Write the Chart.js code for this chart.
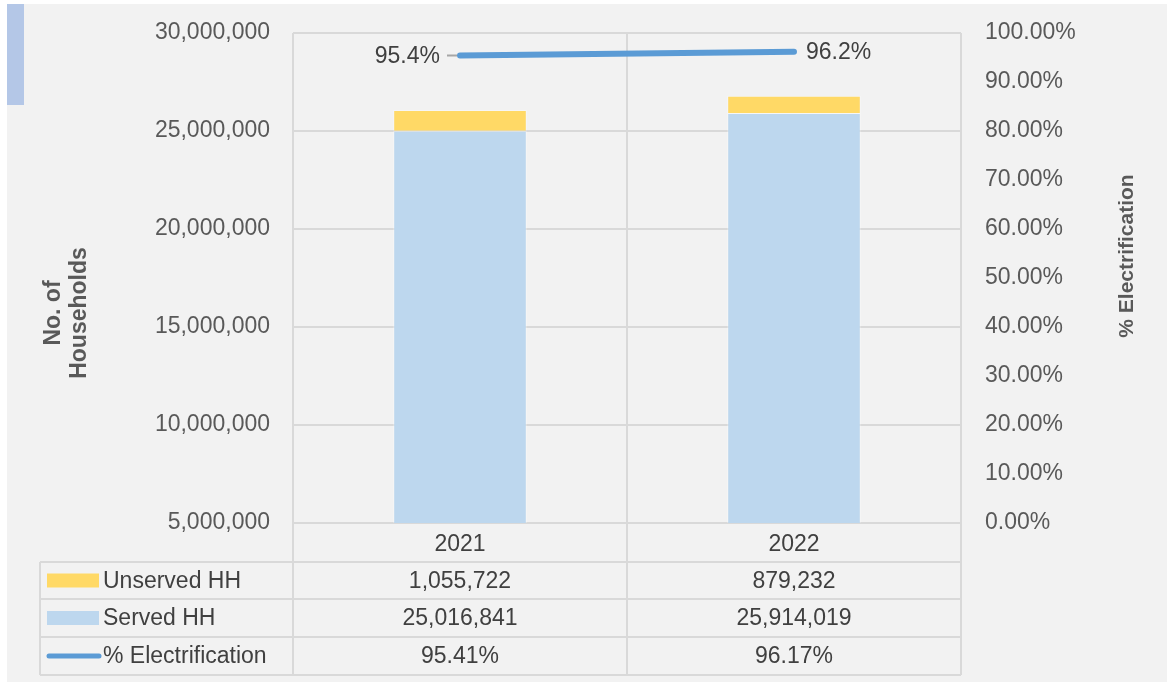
<!DOCTYPE html>
<html>
<head>
<meta charset="utf-8">
<script src="https://cdn.jsdelivr.net/npm/chart.js@4.4.1/dist/chart.umd.min.js"></script>
<style>
  html, body { margin: 0; padding: 0; background: #ffffff; }
  #wrap { width: 1167px; height: 682px; }
</style>
</head>
<body>
<div id="wrap"><canvas id="c" width="1167" height="682"></canvas></div>
<script>
// Household electrification, served vs unserved
const years = ['2021', '2022'];
const unservedHH = [1055722, 879232];
const servedHH = [25016841, 25914019];
const electrificationPct = [95.41, 96.17];
const seriesNames = ['Unserved HH', 'Served HH', '% Electrification'];
const leftTicks = [5000000, 10000000, 15000000, 20000000, 25000000, 30000000];

const FONT = '"Liberation Sans", Arial, sans-serif';
const TICK_COLOR = '#595959';
const TEXT_COLOR = '#404040';
const GRID = '#d9d9d9';
const YELLOW = '#ffd966';
const LIGHTBLUE = '#bdd7ee';
const LINEBLUE = '#5b9bd5';

// background panel, accent strip
const backdrop = {
  id: 'backdrop',
  beforeDraw(chart) {
    const ctx = chart.ctx;
    ctx.save();
    ctx.fillStyle = '#ffffff';
    ctx.fillRect(0, 0, chart.width, chart.height);
    ctx.fillStyle = '#f2f2f2';
    ctx.fillRect(7, 4, chart.width - 7, chart.height - 4);
    ctx.fillStyle = '#b4c7e7';
    ctx.fillRect(7, 4, 17, 101);
    ctx.restore();
  }
};

// axis titles
const axisTitles = {
  id: 'axisTitles',
  afterDraw(chart) {
    const ctx = chart.ctx;
    ctx.save();
    ctx.fillStyle = TICK_COLOR;
    ctx.font = 'bold 23px ' + FONT;
    ctx.textAlign = 'center';
    ctx.textBaseline = 'middle';
    ctx.translate(67, 313);
    ctx.rotate(-Math.PI / 2);
    ctx.fillText('No. of', 0, -13);
    ctx.fillText('Households', 0, 13);
    ctx.restore();

    ctx.save();
    ctx.fillStyle = TICK_COLOR;
    ctx.font = 'bold 21px ' + FONT;
    ctx.textAlign = 'center';
    ctx.textBaseline = 'middle';
    ctx.translate(1127, 256);
    ctx.rotate(-Math.PI / 2);
    ctx.fillText('% Electrification', 0, 0);
    ctx.restore();
  }
};

// value labels on the electrification line
const lineLabels = {
  id: 'lineLabels',
  afterDatasetsDraw(chart) {
    const ctx = chart.ctx;
    const meta = chart.getDatasetMeta(2);
    ctx.save();
    ctx.font = '23px ' + FONT;
    ctx.fillStyle = TEXT_COLOR;
    ctx.textBaseline = 'middle';
    meta.data.forEach((pt, i) => {
      const txt = electrificationPct[i].toFixed(1) + '%';
      if (i === 0) {
        ctx.strokeStyle = '#a6a6a6';
        ctx.lineWidth = 2;
        ctx.beginPath();
        ctx.moveTo(pt.x - 13, pt.y);
        ctx.lineTo(pt.x - 3, pt.y);
        ctx.stroke();
        ctx.textAlign = 'right';
        ctx.fillText(txt, pt.x - 20, pt.y + 1);
      } else {
        ctx.textAlign = 'left';
        ctx.fillText(txt, pt.x + 12, pt.y + 1);
      }
    });
    ctx.restore();
  }
};

// data table beneath the plot
const dataTable = {
  id: 'dataTable',
  afterDraw(chart) {
    const ctx = chart.ctx;
    const area = chart.chartArea;
    const xs = chart.scales.x;
    const n = years.length;
    const colW = (area.right - area.left) / n;
    const tableLeft = 40;
    const rowEdges = [area.bottom, area.bottom + 39, area.bottom + 76, area.bottom + 114, area.bottom + 152];

    ctx.save();
    ctx.strokeStyle = GRID;
    ctx.lineWidth = 2;
    // horizontal rules
    for (let r = 1; r < rowEdges.length; r++) {
      const y = Math.round(rowEdges[r]);
      ctx.beginPath();
      ctx.moveTo(tableLeft, y);
      ctx.lineTo(area.right, y);
      ctx.stroke();
    }
    // vertical rules
    for (let c = 0; c <= n; c++) {
      const x = Math.round(area.left + c * colW);
      ctx.beginPath();
      ctx.moveTo(x, rowEdges[0]);
      ctx.lineTo(x, rowEdges[4]);
      ctx.stroke();
    }
    ctx.beginPath();
    ctx.moveTo(tableLeft, rowEdges[1]);
    ctx.lineTo(tableLeft, rowEdges[4]);
    ctx.stroke();

    ctx.font = '23px ' + FONT;
    ctx.fillStyle = TEXT_COLOR;
    ctx.textBaseline = 'middle';
    ctx.textAlign = 'center';
    // header row: categories
    years.forEach((yr, i) => {
      const cx = xs.getPixelForValue(i);
      ctx.fillText(yr, cx, (rowEdges[0] + rowEdges[1]) / 2 + 2);
    });

    const rows = [
      { name: seriesNames[0], vals: unservedHH.map(v => v.toLocaleString('en-US')), key: 'box', color: YELLOW },
      { name: seriesNames[1], vals: servedHH.map(v => v.toLocaleString('en-US')), key: 'box', color: LIGHTBLUE },
      { name: seriesNames[2], vals: electrificationPct.map(v => v.toFixed(2) + '%'), key: 'line', color: LINEBLUE }
    ];
    rows.forEach((row, r) => {
      const cy = (rowEdges[r + 1] + rowEdges[r + 2]) / 2;
      // legend key
      if (row.key === 'box') {
        ctx.fillStyle = row.color;
        ctx.fillRect(47, cy - 7, 52, 14);
      } else {
        ctx.strokeStyle = row.color;
        ctx.lineWidth = 5;
        ctx.lineCap = 'round';
        ctx.beginPath();
        ctx.moveTo(49, cy);
        ctx.lineTo(99, cy);
        ctx.stroke();
      }
      ctx.fillStyle = TEXT_COLOR;
      ctx.textAlign = 'left';
      ctx.fillText(row.name, 103, cy + 1);
      ctx.textAlign = 'center';
      row.vals.forEach((v, i) => {
        ctx.fillText(v, xs.getPixelForValue(i), cy + 1);
      });
    });
    ctx.restore();
  }
};

new Chart(document.getElementById('c'), {
  data: {
    labels: years,
    datasets: [
      {
        type: 'bar',
        label: seriesNames[1],
        data: servedHH,
        backgroundColor: LIGHTBLUE,
        borderColor: 'rgba(255,255,255,0.35)',
        borderWidth: 1,
        yAxisID: 'y',
        stack: 'hh',
        order: 2
      },
      {
        type: 'bar',
        label: seriesNames[0],
        data: unservedHH,
        backgroundColor: YELLOW,
        borderColor: 'rgba(255,255,255,0.35)',
        borderWidth: 1,
        yAxisID: 'y',
        stack: 'hh',
        order: 2
      },
      {
        type: 'line',
        label: seriesNames[2],
        data: electrificationPct,
        borderColor: LINEBLUE,
        borderWidth: 6,
        borderCapStyle: 'round',
        pointRadius: 0,
        fill: false,
        yAxisID: 'y1',
        order: 1
      }
    ]
  },
  options: {
    responsive: false,
    animation: false,
    devicePixelRatio: 1,
    layout: { padding: { left: 0, right: 0, top: 33, bottom: 159 } },
    datasets: { bar: { barPercentage: 0.4, categoryPercentage: 1.0 } },
    plugins: {
      legend: { display: false },
      tooltip: { enabled: false },
      title: { display: false }
    },
    scales: {
      x: {
        stacked: true,
        offset: true,
        ticks: { display: false },
        grid: { offset: true, color: GRID, lineWidth: 2, drawTicks: false },
        border: { display: false },
        afterFit(scale) { scale.height = 0; }
      },
      y: {
        position: 'left',
        stacked: true,
        min: leftTicks[0],
        max: leftTicks[leftTicks.length - 1],
        afterBuildTicks(scale) { scale.ticks = leftTicks.map(v => ({ value: v })); },
        ticks: {
          color: TICK_COLOR,
          font: { family: FONT, size: 23 },
          padding: 23,
          callback: v => Number(v).toLocaleString('en-US')
        },
        grid: { color: GRID, lineWidth: 2, drawTicks: false },
        border: { display: false },
        afterFit(scale) {
          scale.width = 293;
          scale.paddingTop = 0;
          scale.paddingBottom = 0;
        }
      },
      y1: {
        position: 'right',
        min: 0,
        max: 100,
        ticks: {
          stepSize: 10,
          color: TICK_COLOR,
          font: { family: FONT, size: 23 },
          padding: 24,
          callback: v => Number(v).toFixed(2) + '%'
        },
        grid: { display: false, drawTicks: false },
        border: { display: false },
        afterFit(scale) {
          scale.width = 206;
          scale.paddingTop = 0;
          scale.paddingBottom = 0;
        }
      }
    }
  },
  plugins: [backdrop, axisTitles, lineLabels, dataTable]
});
</script>
</body>
</html>
